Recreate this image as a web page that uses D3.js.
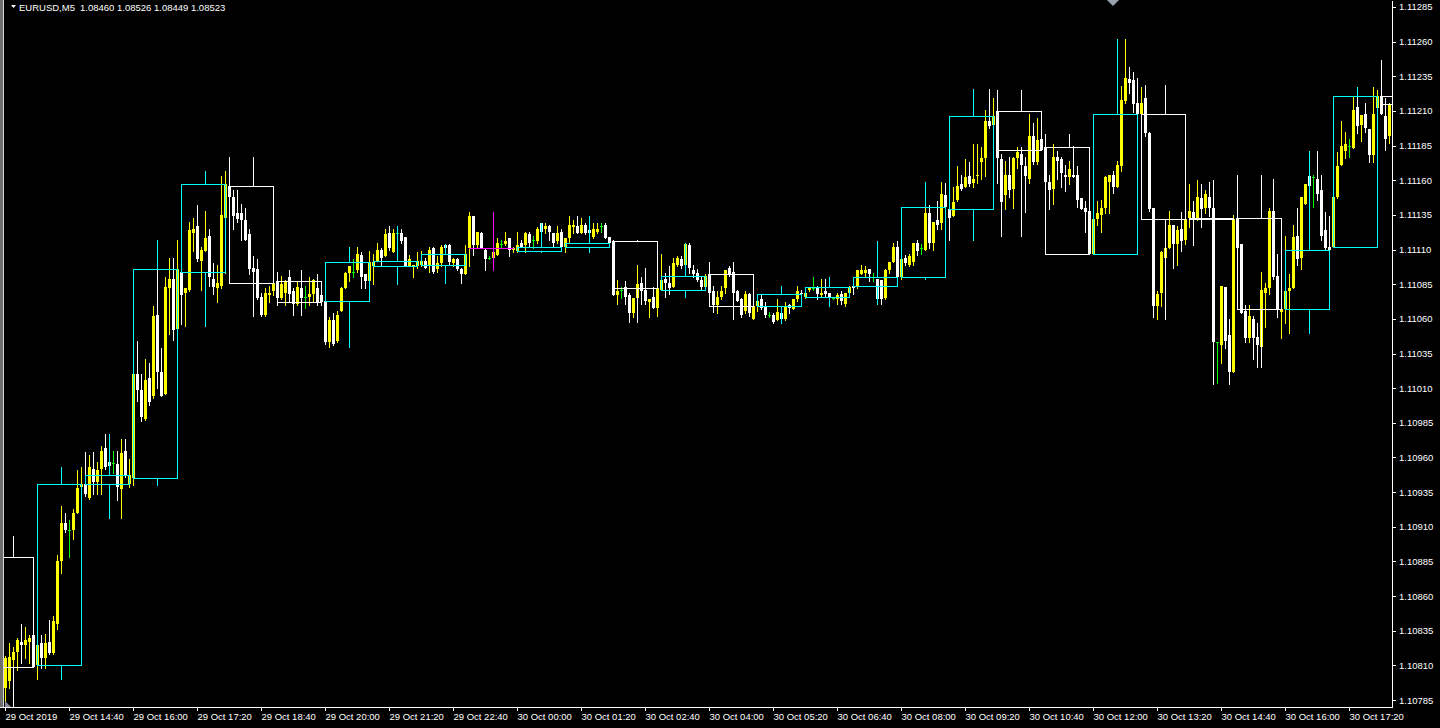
<!DOCTYPE html>
<html>
<head>
<meta charset="utf-8">
<script src="https://cdn.jsdelivr.net/npm/d3@7"></script>
<style>
html,body{margin:0;padding:0;background:#000;overflow:hidden;}
svg{display:block;}
text{font-family:"Liberation Sans",Arial,sans-serif;font-size:9.5px;}
</style>
</head>
<body>
<svg id="chart" width="1440" height="728"></svg>
<script>
// ---------------- DATA ----------------
// EURUSD M5, prices stored as points above 1.10000 (e.g. 1215 -> 1.11215)
// first 4 bars (13:00-13:15) lie left of the visible window
const symbolName = "EURUSD,M5";
const legendPrices = "1.08460 1.08526 1.08449 1.08523";
const hiddenBars = 4;

const barOpen = [
888,864,835,785,
794,799,814,820,827,825,827,832,810,826,
815,827,819,840,885,913,908,908,920,939,
941,931,952,942,952,967,957,956,955,937,
965,941,945,1020,1009,988,1017,1004,1063,1022,
1006,1082,1089,1053,1094,1079,1081,1122,1127,1102,
1109,1120,1089,1082,1084,1133,1156,1148,1136,1136,
1131,1121,1097,1096,1076,1063,1077,1080,1087,1075,
1079,1090,1080,1071,1082,1076,1076,1078,1082,1077,
1073,1043,1059,1044,1066,1082,1093,1094,1095,1106,
1092,1087,1098,1102,1110,1105,1122,1108,1122,1122,
1119,1098,1098,1098,1099,1102,1098,1111,1096,1100,
1113,1113,1100,1103,1096,1092,1111,1134,1113,1122,
1110,1104,1104,1106,1114,1114,1118,1110,1109,1115,
1113,1121,1117,1116,1129,1125,1127,1122,1116,1123,
1112,1118,1126,1127,1122,1128,1124,1119,1123,1127,
1128,1119,1116,1077,1081,1083,1077,1064,1075,1086,
1081,1072,1076,1068,1081,1089,1086,1083,1099,1103,
1099,1113,1095,1093,1088,1083,1092,1080,1070,1076,
1082,1097,1094,1080,1074,1066,1078,1060,1069,1074,
1069,1063,1063,1059,1064,1060,1070,1067,1074,1079,
1076,1081,1082,1083,1077,1080,1079,1075,1074,1078,
1071,1079,1084,1083,1092,1093,1096,1090,1089,1088,
1075,1095,1101,1112,1090,1104,1099,1101,1115,1111,
1110,1136,1115,1131,1129,1149,1139,1134,1146,1157,
1155,1163,1158,1163,1173,1176,1203,1200,1210,1175,
1149,1164,1154,1176,1179,1170,1161,1192,1173,1190,
1184,1159,1154,1177,1175,1164,1162,1164,1164,1147,
1140,1138,1107,1132,1135,1140,1159,1164,1155,1170,
1217,1233,1232,1216,1208,1219,1194,1140,1069,1079,
1104,1111,1128,1114,1125,1117,1133,1137,1131,1147,
1140,1148,1140,1043,1041,1083,1048,1022,1133,1114,
1066,1046,1060,1047,1040,1079,1082,1138,1091,1065,
1067,1080,1082,1120,1104,1143,1163,1162,1161,1153,
1124,1112,1112,1148,1171,1181,1185,1183,1213,1200,
1208,1197,1178,1212,1221,1206,1192
];

const barHigh = [
903,868,839,799,
817,826,823,830,840,838,832,838,832,832,
833,843,846,890,925,920,915,923,951,953,
964,962,964,957,968,977,959,965,965,973,
973,959,1022,1044,1020,1031,1028,1069,1095,1039,
1090,1104,1104,1117,1094,1082,1130,1133,1142,1112,
1138,1125,1100,1099,1163,1167,1177,1153,1153,1143,
1140,1125,1105,1103,1079,1082,1084,1089,1094,1091,
1088,1095,1082,1087,1094,1084,1090,1089,1092,1081,
1073,1061,1064,1066,1083,1094,1098,1103,1112,1108,
1092,1109,1107,1115,1111,1125,1127,1125,1123,1125,
1119,1106,1099,1108,1109,1104,1112,1112,1105,1113,
1114,1114,1104,1104,1097,1113,1137,1134,1123,1123,
1111,1105,1110,1118,1117,1123,1118,1112,1123,1117,
1123,1123,1120,1126,1129,1129,1128,1122,1127,1125,
1118,1134,1131,1134,1133,1129,1133,1129,1129,1129,
1129,1119,1117,1088,1083,1087,1079,1075,1099,1090,
1097,1074,1083,1083,1107,1093,1098,1104,1105,1105,
1115,1115,1099,1096,1090,1092,1101,1084,1080,1084,
1095,1098,1100,1081,1075,1080,1079,1071,1073,1077,
1072,1065,1064,1074,1068,1072,1071,1074,1084,1081,
1081,1083,1090,1084,1089,1089,1079,1076,1079,1080,
1079,1084,1084,1095,1099,1098,1096,1093,1089,1088,
1096,1101,1115,1116,1103,1106,1107,1115,1117,1114,
1141,1142,1130,1145,1159,1158,1140,1155,1170,1164,
1175,1173,1186,1186,1184,1211,1226,1219,1225,1179,
1174,1177,1177,1184,1184,1177,1208,1201,1205,1190,
1193,1164,1186,1181,1177,1171,1174,1185,1170,1147,
1145,1138,1132,1145,1146,1163,1164,1167,1174,1228,
1262,1242,1238,1234,1227,1229,1195,1140,1080,1109,
1131,1138,1128,1127,1137,1132,1157,1145,1160,1157,
1153,1159,1140,1043,1084,1083,1060,1135,1164,1114,
1070,1070,1062,1057,1094,1086,1140,1161,1107,1067,
1120,1092,1128,1140,1148,1157,1163,1164,1181,1164,
1137,1134,1148,1180,1203,1195,1190,1220,1226,1207,
1216,1197,1227,1225,1247,1219,1216
];

const barLow = [
857,828,776,776,
781,794,808,807,812,815,812,809,800,808,
808,818,818,836,877,906,888,901,920,939,
932,930,934,934,934,952,952,949,929,916,
946,939,940,1001,986,987,998,1003,1010,1004,
1006,1049,1045,1053,1056,1055,1080,1109,1102,1081,
1109,1084,1078,1072,1082,1093,1148,1125,1130,1117,
1117,1092,1063,1074,1062,1062,1072,1077,1070,1074,
1070,1072,1063,1070,1064,1068,1070,1072,1070,1070,
1042,1040,1041,1043,1066,1082,1087,1090,1094,1082,
1082,1087,1085,1102,1098,1105,1110,1108,1119,1115,
1098,1098,1090,1097,1098,1097,1094,1093,1094,1098,
1110,1099,1098,1095,1086,1092,1098,1106,1112,1111,
1095,1103,1104,1106,1111,1113,1105,1108,1108,1112,
1108,1112,1111,1115,1119,1122,1117,1112,1115,1112,
1108,1115,1122,1122,1122,1121,1122,1118,1122,1123,
1118,1113,1077,1071,1075,1071,1058,1061,1059,1071,
1071,1061,1068,1062,1081,1076,1078,1083,1098,1097,
1099,1093,1090,1087,1081,1083,1079,1065,1064,1074,
1079,1091,1061,1073,1061,1064,1062,1060,1066,1067,
1061,1061,1057,1059,1057,1059,1064,1067,1073,1074,
1075,1080,1081,1074,1076,1076,1070,1074,1071,1071,
1069,1078,1078,1082,1092,1091,1087,1087,1072,1071,
1074,1093,1101,1090,1089,1099,1098,1099,1106,1107,
1110,1111,1110,1125,1125,1141,1117,1134,1145,1153,
1155,1156,1155,1158,1161,1163,1198,1200,1158,1120,
1139,1148,1140,1169,1122,1137,1158,1172,1172,1182,
1159,1139,1143,1161,1155,1152,1157,1162,1141,1139,
1123,1107,1107,1128,1123,1136,1136,1151,1155,1167,
1216,1223,1209,1208,1208,1192,1138,1061,1060,1069,
1061,1111,1097,1099,1109,1114,1126,1113,1131,1126,
1136,1134,1014,1014,1028,1039,1013,1022,1111,1064,
1043,1043,1031,1025,1026,1054,1078,1089,1061,1046,
1057,1050,1082,1099,1096,1143,1156,1141,1146,1117,
1110,1110,1112,1147,1171,1176,1177,1183,1194,1188,
1195,1173,1173,1212,1208,1182,1187
];

const barClose = [
864,835,785,794,
815,816,820,828,825,828,830,809,825,815,
826,819,842,885,913,908,908,920,938,941,
934,953,942,951,965,953,954,956,939,963,
947,947,1020,1009,989,1016,1000,1062,1022,1004,
1083,1089,1052,1096,1077,1082,1124,1125,1103,1110,
1118,1090,1083,1086,1135,1157,1148,1134,1132,1131,
1117,1096,1094,1075,1063,1079,1079,1086,1075,1085,
1087,1078,1071,1083,1075,1076,1078,1088,1072,1072,
1043,1059,1042,1063,1082,1093,1098,1094,1107,1090,
1087,1101,1101,1110,1104,1121,1111,1122,1122,1116,
1098,1103,1099,1102,1102,1097,1110,1094,1100,1112,
1111,1101,1103,1096,1092,1107,1134,1113,1123,1111,
1103,1104,1108,1115,1114,1116,1110,1111,1113,1112,
1122,1115,1117,1125,1123,1127,1123,1115,1122,1112,
1118,1128,1128,1122,1128,1122,1122,1125,1125,1127,
1118,1115,1077,1080,1081,1076,1064,1075,1085,1080,
1073,1074,1068,1082,1088,1086,1082,1100,1104,1098,
1114,1097,1092,1088,1083,1091,1079,1070,1076,1080,
1095,1092,1079,1073,1063,1078,1064,1069,1073,1068,
1063,1063,1058,1065,1060,1069,1068,1074,1080,1078,
1079,1083,1082,1078,1079,1078,1076,1075,1077,1073,
1079,1083,1082,1095,1095,1095,1092,1090,1074,1074,
1095,1101,1112,1090,1103,1100,1105,1115,1109,1111,
1136,1115,1130,1128,1150,1141,1133,1144,1156,1154,
1162,1157,1161,1164,1176,1203,1199,1206,1176,1144,
1164,1153,1176,1180,1171,1163,1192,1173,1189,1182,
1159,1153,1177,1174,1165,1162,1168,1162,1146,1139,
1137,1107,1132,1136,1140,1162,1164,1155,1171,1218,
1234,1230,1215,1208,1216,1194,1139,1069,1078,1108,
1111,1128,1114,1124,1116,1132,1138,1133,1148,1139,
1150,1140,1043,1043,1084,1044,1022,1132,1111,1064,
1046,1062,1046,1041,1081,1082,1138,1090,1067,1067,
1080,1082,1119,1103,1148,1157,1156,1162,1150,1120,
1111,1110,1148,1170,1185,1186,1185,1211,1199,1207,
1198,1178,1208,1221,1208,1190,1215
];

const timeLabels = [
"29 Oct 2019","29 Oct 14:40","29 Oct 16:00","29 Oct 17:20","29 Oct 18:40","29 Oct 20:00",
"29 Oct 21:20","29 Oct 22:40","30 Oct 00:00","30 Oct 01:20","30 Oct 02:40","30 Oct 04:00",
"30 Oct 05:20","30 Oct 06:40","30 Oct 08:00","30 Oct 09:20","30 Oct 10:40","30 Oct 12:00",
"30 Oct 13:20","30 Oct 14:40","30 Oct 16:00","30 Oct 17:20"
];
const timeLabelBars = [0,16,32,48,64,80,96,112,128,144,160,176,192,208,224,240,256,272,288,304,320,336];

const priceTickLabels = [
"1.10785","1.10810","1.10835","1.10860","1.10885","1.10910","1.10935","1.10960","1.10985",
"1.11010","1.11035","1.11060","1.11085","1.11110","1.11135","1.11160","1.11185","1.11210",
"1.11235","1.11260","1.11285"
];

// ---------------- STYLE ----------------
const COL_BULL = "#ffff00", COL_BEAR = "#ffffff", COL_DOJI = "#00ff00";
const BOX_BULL = "#00ffff", BOX_BEAR = "#ffffff", BOX_DOJI = "#ff00ff";
const FG = "#ffffff";
const plotLeft = 4, plotRight = 1392, plotBottom = 707;

// ---------------- SCALES ----------------
const lastBar = barOpen.length - hiddenBars - 1; // 346
const x = d3.scaleLinear().domain([0, lastBar]).range([5, 5 + 4 * lastBar]);
const y = d3.scaleLinear().domain([1.10780, 1.11290]).range([plotBottom, 0]);
const toPrice = v => 1.1 + v / 100000;

const bars = barOpen.map((o, j) => ({
  i: j - hiddenBars,
  ro: o, rc: barClose[j],
  o: toPrice(o), h: toPrice(barHigh[j]), l: toPrice(barLow[j]), c: toPrice(barClose[j])
}));

const svg = d3.select("#chart");
svg.append("rect").attr("width", 1440).attr("height", 728).attr("fill", "#000");

svg.append("defs").append("clipPath").attr("id", "plotClip")
  .append("rect").attr("x", plotLeft).attr("y", 0)
  .attr("width", plotRight - plotLeft).attr("height", plotBottom);

const plot = svg.append("g").attr("clip-path", "url(#plotClip)")
  .attr("shape-rendering", "crispEdges");

const colorOf = b => b.rc > b.ro ? COL_BULL : (b.rc < b.ro ? COL_BEAR : COL_DOJI);

// candles
const cg = plot.append("g");
const cand = cg.selectAll("g.bar").data(bars).join("g").attr("class", "bar");
cand.append("line")
  .attr("x1", d => Math.round(x(d.i)) + 0.5).attr("x2", d => Math.round(x(d.i)) + 0.5)
  .attr("y1", d => Math.round(y(d.h))).attr("y2", d => Math.round(y(d.l)) + 1)
  .attr("stroke", colorOf).attr("stroke-width", 1);
cand.filter(d => d.ro !== d.rc).append("rect")
  .attr("x", d => Math.round(x(d.i)) - 1)
  .attr("y", d => Math.round(y(Math.max(d.o, d.c))))
  .attr("width", 3)
  .attr("height", d => Math.max(1, Math.round(y(Math.min(d.o, d.c))) - Math.round(y(Math.max(d.o, d.c)))))
  .attr("fill", colorOf);
cand.filter(d => d.ro === d.rc).append("line")
  .attr("x1", d => Math.round(x(d.i)) - 1).attr("x2", d => Math.round(x(d.i)) + 2)
  .attr("y1", d => Math.round(y(d.c)) + 0.5).attr("y2", d => Math.round(y(d.c)) + 0.5)
  .attr("stroke", colorOf);

// hourly candles as boxes
const hours = d3.range(Math.ceil(bars.length / 12)).map(k => {
  const seg = bars.slice(k * 12, k * 12 + 12);
  return {
    start: seg[0].i - 0, first: k * 12 - hiddenBars,
    ro: seg[0].ro, rc: seg[seg.length - 1].rc,
    o: seg[0].o, c: seg[seg.length - 1].c,
    hi: d3.max(seg, d => d.h), lo: d3.min(seg, d => d.l)
  };
});
const boxColor = h => h.rc > h.ro ? BOX_BULL : (h.rc < h.ro ? BOX_BEAR : BOX_DOJI);
const hg = plot.append("g");
hours.forEach(h => {
  const x0 = Math.round(x(h.first)), x1 = Math.round(x(h.first + 11));
  const xm = Math.round(x(h.first + 6)) + 0.5;
  const top = Math.round(y(Math.max(h.o, h.c))), bot = Math.round(y(Math.min(h.o, h.c)));
  const col = boxColor(h);
  if (bot > top) {
    hg.append("rect").attr("x", x0 + 0.5).attr("y", top + 0.5)
      .attr("width", x1 - x0).attr("height", bot - top)
      .attr("fill", "none").attr("stroke", col);
  } else {
    hg.append("line").attr("x1", x0).attr("x2", x1 + 1)
      .attr("y1", top + 0.5).attr("y2", top + 0.5).attr("stroke", col);
  }
  hg.append("line").attr("x1", xm).attr("x2", xm)
    .attr("y1", Math.round(y(h.hi))).attr("y2", top).attr("stroke", col);
  hg.append("line").attr("x1", xm).attr("x2", xm)
    .attr("y1", bot + 1).attr("y2", Math.round(y(h.lo)) + 1).attr("stroke", col);
});

// frame / left edge
svg.append("rect").attr("x", 0).attr("y", 0).attr("width", 3).attr("height", plotBottom)
  .attr("fill", "#6f6f6f");
svg.append("line").attr("x1", 3.5).attr("x2", 3.5).attr("y1", 0).attr("y2", plotBottom)
  .attr("stroke", "#d8d8d8").attr("shape-rendering", "crispEdges");
svg.append("line").attr("x1", 0).attr("x2", plotRight + 1).attr("y1", plotBottom + 0.5).attr("y2", plotBottom + 0.5)
  .attr("stroke", FG).attr("shape-rendering", "crispEdges");

// markers (chart-end and shift triangles)
svg.append("polygon").attr("points", `5,701 5,707 11,707`).attr("fill", "#8a9099");
svg.append("polygon").attr("points", `1107,0 1119,0 1113,6`).attr("fill", "#9aa3ad");

// price axis
const yAxis = d3.axisRight(y)
  .tickValues(priceTickLabels.map(Number))
  .tickFormat((d, i) => priceTickLabels[i])
  .tickSize(4).tickSizeOuter(0).tickPadding(3);
const gy = svg.append("g").attr("transform", `translate(${plotRight},0)`)
  .style("color", FG).attr("shape-rendering", "crispEdges").call(yAxis);
gy.selectAll("text").attr("fill", FG).style("font-size", "9.5px")
  .style("font-family", "'Liberation Sans', Arial, sans-serif");

// time axis
const xAxis = d3.axisBottom(x)
  .tickValues(timeLabelBars)
  .tickFormat((d, i) => timeLabels[i])
  .tickSize(4).tickSizeOuter(0);
const gx = svg.append("g").attr("transform", `translate(0,${plotBottom})`)
  .style("color", FG).attr("shape-rendering", "crispEdges").call(xAxis);
gx.select(".domain").remove();
gx.selectAll("text").attr("fill", FG).attr("text-anchor", "start").attr("x", 0)
  .attr("y", 6).style("font-size", "9.5px")
  .style("font-family", "'Liberation Sans', Arial, sans-serif");

// legend (top-left)
svg.append("polygon").attr("points", "11,5 16,5 13.5,8").attr("fill", FG);
const lg = svg.append("text").attr("y", 11).attr("fill", FG).style("font-size", "9.5px");
lg.append("tspan").attr("x", 19).text(symbolName);
lg.append("tspan").attr("x", 80).text(legendPrices);
</script>
</body>
</html>
